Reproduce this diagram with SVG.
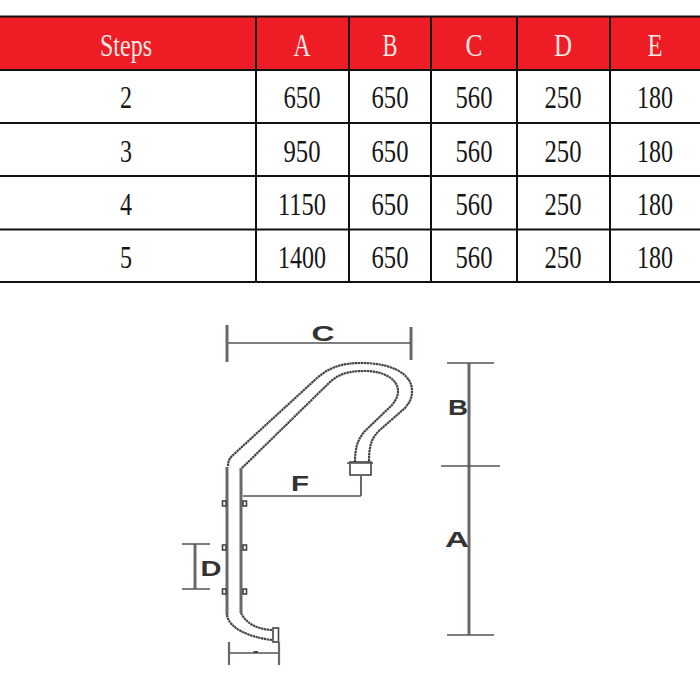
<svg xmlns="http://www.w3.org/2000/svg" width="700" height="700" viewBox="0 0 700 700">
<style>
.rule{stroke:#111;stroke-width:2;fill:none}
.h{font:32px "Liberation Serif",serif;fill:#fbe9e4;text-anchor:middle}
.c{font:32px "Liberation Serif",serif;fill:#161616;text-anchor:middle}
.pipe{fill:none;stroke:#444;stroke-width:2.200;stroke-dasharray:2.400 .5}
.leg{fill:none;stroke:#6f6668;stroke-width:3}
.dim{fill:none;stroke:#555;stroke-width:1.600}
.dimb{fill:none;stroke:#6f6668;stroke-width:3}
.lab{font:bold 22px "Liberation Sans",sans-serif;fill:#333;text-anchor:middle}
.br{fill:#fff;stroke:#444;stroke-width:1.600}
</style>
<g id="table">
<rect x="0" y="17" width="700" height="53" fill="#ed1c25"/>
<path class="rule" d="M0 16.500H700M0 70H700M0 123H700M0 176H700M0 229.500H700M0 282H700M256 16V283M349 16V283M431 16V283M517 16V283M610 16V283"/>
<g class="h">
<text x="126" y="56" textLength="52" lengthAdjust="spacingAndGlyphs">Steps</text>
<text x="302" y="56" textLength="17" lengthAdjust="spacingAndGlyphs">A</text>
<text x="390" y="56" textLength="15" lengthAdjust="spacingAndGlyphs">B</text>
<text x="474" y="56" textLength="17" lengthAdjust="spacingAndGlyphs">C</text>
<text x="563" y="56" textLength="18" lengthAdjust="spacingAndGlyphs">D</text>
<text x="655" y="56" textLength="15" lengthAdjust="spacingAndGlyphs">E</text>
</g>
<g class="c">
<text x="126" y="108" textLength="12" lengthAdjust="spacingAndGlyphs">2</text>
<text x="302" y="108" textLength="37" lengthAdjust="spacingAndGlyphs">650</text>
<text x="390" y="108" textLength="37" lengthAdjust="spacingAndGlyphs">650</text>
<text x="474" y="108" textLength="37" lengthAdjust="spacingAndGlyphs">560</text>
<text x="563" y="108" textLength="37" lengthAdjust="spacingAndGlyphs">250</text>
<text x="655" y="108" textLength="36" lengthAdjust="spacingAndGlyphs">180</text>
<text x="126" y="162" textLength="12" lengthAdjust="spacingAndGlyphs">3</text>
<text x="302" y="162" textLength="37" lengthAdjust="spacingAndGlyphs">950</text>
<text x="390" y="162" textLength="37" lengthAdjust="spacingAndGlyphs">650</text>
<text x="474" y="162" textLength="37" lengthAdjust="spacingAndGlyphs">560</text>
<text x="563" y="162" textLength="37" lengthAdjust="spacingAndGlyphs">250</text>
<text x="655" y="162" textLength="36" lengthAdjust="spacingAndGlyphs">180</text>
<text x="126" y="215" textLength="12" lengthAdjust="spacingAndGlyphs">4</text>
<text x="302" y="215" textLength="48" lengthAdjust="spacingAndGlyphs">1150</text>
<text x="390" y="215" textLength="37" lengthAdjust="spacingAndGlyphs">650</text>
<text x="474" y="215" textLength="37" lengthAdjust="spacingAndGlyphs">560</text>
<text x="563" y="215" textLength="37" lengthAdjust="spacingAndGlyphs">250</text>
<text x="655" y="215" textLength="36" lengthAdjust="spacingAndGlyphs">180</text>
<text x="126" y="268" textLength="12" lengthAdjust="spacingAndGlyphs">5</text>
<text x="302" y="268" textLength="48" lengthAdjust="spacingAndGlyphs">1400</text>
<text x="390" y="268" textLength="37" lengthAdjust="spacingAndGlyphs">650</text>
<text x="474" y="268" textLength="37" lengthAdjust="spacingAndGlyphs">560</text>
<text x="563" y="268" textLength="37" lengthAdjust="spacingAndGlyphs">250</text>
<text x="655" y="268" textLength="36" lengthAdjust="spacingAndGlyphs">180</text>
</g>
</g>
<g id="ladder">
<path class="pipe" d="M228 466Q228 460 232 456L317 378C330 367 342 363 362 363C388 363 412 372 412 391C412 399 409 403 405 408L381 429C372 437 369 444 369 462"/>
<path class="pipe" d="M242 468L330 382C340 373 350 371 365 371C385 371 398 380 398 391C398 397 395 401 392 405L365 431C358 439 355 447 355 462"/>
<path class="leg" d="M227 467V615M241 468V613"/>
<path class="pipe" d="M227 615C229 628 248 637 272 640M241 613C246 623 256 629 272 630"/>
<rect class="br" x="273" y="628" width="5.500" height="14"/>
<rect class="br" x="350" y="462" width="21" height="13"/>
<path class="dim" d="M347 463H373"/>
<g class="br">
<rect x="222.500" y="501" width="3.500" height="5"/><rect x="243" y="501" width="3.500" height="5"/>
<rect x="222.500" y="545" width="3.500" height="5"/><rect x="243" y="545" width="3.500" height="5"/>
<rect x="222.500" y="589" width="3.500" height="5"/><rect x="243" y="589" width="3.500" height="5"/>
</g>
</g>
<g id="dimensions">
<path class="dimb" d="M227 325V362M411 327V360"/>
<path class="dim" d="M228 343H411"/>
<path class="dim" d="M243 496H361"/>
<path class="dimb" d="M361 476V496" style="stroke-width:2"/>
<path class="dimb" d="M195 544V589"/>
<path class="dim" d="M182 544H210M182 589H210"/>
<path class="dim" d="M229 653H279"/>
<path class="dimb" d="M229 642V665M279 642V665" style="stroke-width:2.200"/>
<path d="M253.500 652H258" stroke="#444" stroke-width="2"/>
<path class="dimb" d="M469 363V635"/>
<path class="dim" d="M447 363H494M441 466H500M447 635H494"/>
<text class="lab" x="323" y="341" textLength="23" lengthAdjust="spacingAndGlyphs">C</text>
<text class="lab" x="300" y="491" textLength="18" lengthAdjust="spacingAndGlyphs">F</text>
<text class="lab" x="211" y="576" textLength="21" lengthAdjust="spacingAndGlyphs">D</text>
<text class="lab" x="458" y="415" textLength="20" lengthAdjust="spacingAndGlyphs">B</text>
<text class="lab" x="457" y="547" textLength="24" lengthAdjust="spacingAndGlyphs">A</text>
</g>
</svg>
